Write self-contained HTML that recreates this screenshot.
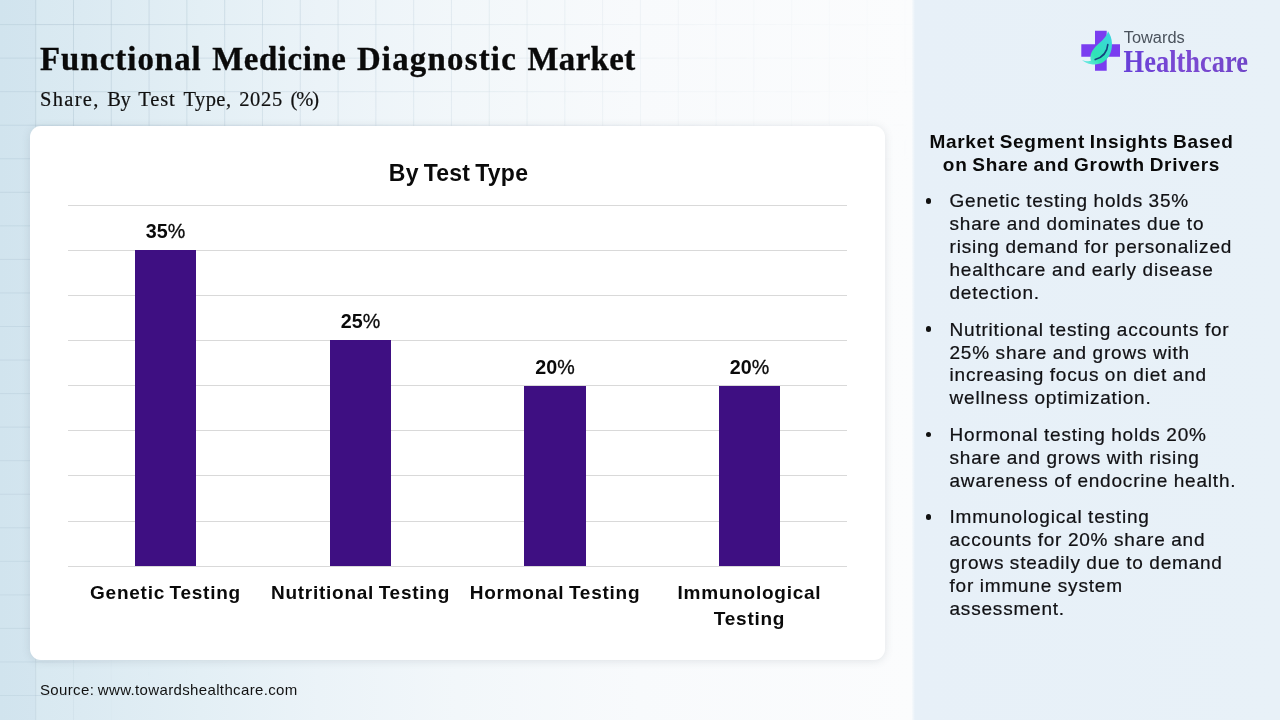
<!DOCTYPE html>
<html lang="en">
<head>
<meta charset="utf-8">
<title>Functional Medicine Diagnostic Market</title>
<style>
*{margin:0;padding:0;box-sizing:border-box}
html,body{width:1280px;height:720px;overflow:hidden;background:#fff}
body{position:relative;font-family:"Liberation Sans",sans-serif;color:#0b0b0f}
#bg{position:absolute;left:0;top:0;width:913px;height:720px;
 background:linear-gradient(90deg,#d6e8f0 0%,#dbeaf2 9%,#e3eff5 22%,#ebf3f8 35%,#f2f7fa 50%,#f8fafc 70%,#fbfcfd 100%);}
#grid{position:absolute;left:0;top:0;width:913px;height:720px;
 background-image:
  linear-gradient(90deg,rgba(165,188,203,.42) 0,rgba(165,188,203,.42) 1px,transparent 1px),
  linear-gradient(180deg,rgba(165,188,203,.42) 0,rgba(165,188,203,.42) 1px,transparent 1px);
 background-size:37.8px 33.55px;background-position:35.2px 24.1px;
 -webkit-mask-image:radial-gradient(ellipse 1000px 760px at -40px -60px,rgba(0,0,0,1) 0%,rgba(0,0,0,.85) 25%,rgba(0,0,0,.5) 50%,rgba(0,0,0,.18) 75%,rgba(0,0,0,0) 100%),linear-gradient(90deg,rgba(0,0,0,.75) 0,rgba(0,0,0,.75) 36px,rgba(0,0,0,.25) 80px,rgba(0,0,0,0) 130px);
 mask-image:radial-gradient(ellipse 1000px 760px at -40px -60px,rgba(0,0,0,1) 0%,rgba(0,0,0,.85) 25%,rgba(0,0,0,.5) 50%,rgba(0,0,0,.18) 75%,rgba(0,0,0,0) 100%),linear-gradient(90deg,rgba(0,0,0,.75) 0,rgba(0,0,0,.75) 36px,rgba(0,0,0,.25) 80px,rgba(0,0,0,0) 130px);}
#strip{position:absolute;left:0;top:0;width:35px;height:720px;background:rgba(196,220,232,.28)}
#panel{position:absolute;left:912px;top:0;width:368px;height:720px;background:linear-gradient(90deg,#f7fafc 0,#e7f0f8 3px,#e8f1f8 100%)}
#card{position:absolute;left:30px;top:126px;width:855px;height:534px;background:#fff;border-radius:11px;
 box-shadow:0 1px 9px rgba(90,100,110,.16)}
h1{position:absolute;left:40px;top:38.5px;font-family:"Liberation Serif",serif;font-weight:700;font-size:32.8px;line-height:40px;white-space:nowrap;letter-spacing:.7px;word-spacing:1.6px;color:#0a0a0a;-webkit-text-stroke:.35px #0a0a0a}
h2{position:absolute;left:40px;top:86.5px;font-family:"Liberation Serif",serif;font-weight:400;font-size:20.5px;line-height:24px;white-space:nowrap;letter-spacing:.5px;word-spacing:2.1px;color:#111;-webkit-text-stroke:.2px #111}
.ct{position:absolute;left:258.5px;top:159.3px;width:400px;text-align:center;font-weight:700;font-size:23px;line-height:28px;white-space:nowrap;letter-spacing:.25px;word-spacing:-1.7px;color:#0a0a0a}
.gl{position:absolute;left:68px;width:779px;height:1px;background:#d9d9d9}
.bar{position:absolute;width:61px;background:#3e0f82}
.val{position:absolute;width:100px;text-align:center;font-weight:700;font-size:19.7px;line-height:22px;color:#0a0a0a}
.val i{font-style:normal;font-weight:400;-webkit-text-stroke:.3px #0a0a0a}
.cat{position:absolute;width:220px;text-align:center;font-weight:700;font-size:19px;line-height:26px;color:#0a0a0a;letter-spacing:.75px;word-spacing:-1.5px;white-space:nowrap}
#src{position:absolute;left:40px;top:679.6px;font-size:15px;line-height:20px;white-space:nowrap;color:#111;letter-spacing:.36px;word-spacing:-1px}
#ph{position:absolute;left:901.5px;top:129.7px;width:360px;text-align:center;font-weight:700;font-size:19px;line-height:23px;color:#0a0a0a;letter-spacing:.71px;word-spacing:-1.2px;white-space:nowrap}
ul{position:absolute;left:949.5px;top:190.4px;width:330px;list-style:none;font-size:19px;line-height:22.92px;color:#111114;letter-spacing:.8px;word-spacing:-.4px;white-space:nowrap;-webkit-text-stroke:.22px #111114}
li{position:relative;margin-bottom:13.65px}
li:before{content:"";position:absolute;left:-24px;top:7.7px;width:5.6px;height:5.6px;border-radius:50%;background:#111}
</style>
</head>
<body>
<div id="bg"></div>
<div id="grid"></div>
<div id="strip"></div>
<div id="panel"></div>
<div id="card"></div>


<svg id="logo" width="200" height="70" viewBox="0 0 200 70" style="position:absolute;left:1060px;top:20px;overflow:visible">
 <defs>
  <linearGradient id="lg1" x1="0" y1="1" x2="1" y2="0">
   <stop offset="0" stop-color="#7fe9f2"/><stop offset=".35" stop-color="#2fe3b4"/><stop offset="1" stop-color="#3fd2e6"/>
  </linearGradient>
  <linearGradient id="lg2" x1="0" y1="0" x2="1" y2="0">
   <stop offset="0" stop-color="#6740d8"/><stop offset=".5" stop-color="#7b49d2"/><stop offset="1" stop-color="#7046c8"/>
  </linearGradient>
 </defs>
 <path d="M35 10.7h11.7v13.5H60v12.5H46.7v14H35v-14H21.3V24.2H35z" fill="#7a3df0"/>
 <path d="M48 11.300c4.700 6.600 5.400 16.700 1.300 24.300-3.600 6.700-10.500 9.900-17.900 8.700-3.700-.6-7.100-2.200-9.400-4.400 3.300 1.300 6.300 1.600 8.900.9-1.600-5.400 1.300-11.100 6.300-15.700 4.400-4.100 9.500-8 10.800-13.800z" fill="url(#lg1)"/>
 <path d="M47.800 24.600c-.6 7.600-5.400 12.700-12.600 15" fill="none" stroke="#15407c" stroke-width="1.600" stroke-linecap="round"/>
 <text x="63.700" y="23.400" font-family="Liberation Sans, sans-serif" font-size="16" fill="#4a525c" textLength="61" lengthAdjust="spacingAndGlyphs">Towards</text>
 <text x="63.600" y="51.600" font-family="Liberation Serif, serif" font-weight="700" font-size="31.200" fill="url(#lg2)" textLength="124.500" lengthAdjust="spacingAndGlyphs">Healthcare</text>
</svg>

<h1><span style="letter-spacing:1.05px">Functional</span> <span style="letter-spacing:.6px">Medicine</span> <span style="letter-spacing:1.25px">Diagnostic</span> <span style="letter-spacing:.4px">Market</span></h1>
<h2><span style="letter-spacing:1.3px">Share,</span> <span style="letter-spacing:-.4px">By</span> <span style="letter-spacing:.9px">Test</span> <span style="letter-spacing:.45px">Type,</span> <span style="letter-spacing:.65px">2025</span> <span style="letter-spacing:-1.1px">(%)</span></h2>

<div class="ct">By Test Type</div>

<div class="gl" style="top:205px"></div>
<div class="gl" style="top:250px"></div>
<div class="gl" style="top:295px"></div>
<div class="gl" style="top:340px"></div>
<div class="gl" style="top:385px"></div>
<div class="gl" style="top:430px"></div>
<div class="gl" style="top:475px"></div>
<div class="gl" style="top:520.5px"></div>
<div class="gl" style="top:566px"></div>

<div class="bar" style="left:135px;top:250px;height:316px"></div>
<div class="bar" style="left:330px;top:340px;height:226px"></div>
<div class="bar" style="left:524.3px;top:386px;height:180px;width:61.7px"></div>
<div class="bar" style="left:719px;top:386px;height:180px"></div>

<div class="val" style="left:115.5px;top:220px">35<i>%</i></div>
<div class="val" style="left:310.5px;top:310px">25<i>%</i></div>
<div class="val" style="left:505px;top:356px">20<i>%</i></div>
<div class="val" style="left:699.5px;top:356px">20<i>%</i></div>

<div class="cat" style="left:55.5px;top:579.7px">Genetic Testing</div>
<div class="cat" style="left:250.5px;top:579.7px">Nutritional Testing</div>
<div class="cat" style="left:445px;top:579.7px">Hormonal Testing</div>
<div class="cat" style="left:639.5px;top:579.7px">Immunological<br>Testing</div>

<div id="src">Source: www.towardshealthcare.com</div>

<div id="ph">Market Segment Insights Based<br>on Share and Growth Drivers</div>
<ul>
<li>Genetic testing holds 35%<br>share and dominates due to<br>rising demand for personalized<br>healthcare and early disease<br>detection.</li>
<li>Nutritional testing accounts for<br>25% share and grows with<br>increasing focus on diet and<br>wellness optimization.</li>
<li>Hormonal testing holds 20%<br>share and grows with rising<br>awareness of endocrine health.</li>
<li>Immunological testing<br>accounts for 20% share and<br>grows steadily due to demand<br>for immune system<br>assessment.</li>
</ul>
</body>
</html>
